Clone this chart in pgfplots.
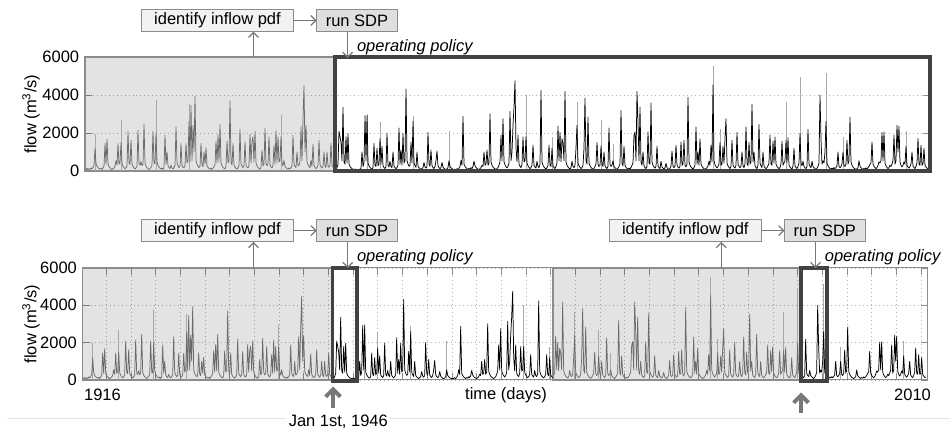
\documentclass[border=0pt]{standalone}
\usepackage{fontspec}
\setmainfont{Liberation Sans}
\usepackage{pgfplots}
\usepackage{pgfplotstable}
\pgfplotsset{compat=1.18}
\usetikzlibrary{arrows.meta}

\definecolor{frame}{gray}{0.55}
\definecolor{boxdark}{gray}{0.26}
\definecolor{spikelight}{gray}{0.66}
\definecolor{lineshaded}{gray}{0.42}
\definecolor{arrowgray}{gray}{0.47}

% inflow, one sample every 40.5 days (index 0 = start of record)
\pgfplotstableread{
v
110
70
140
70
120
80
160
110
190
290
1200
390
250
180
130
100
140
80
170
250
1450
340
1670
360
230
160
110
70
120
160
250
550
300
1440
360
420
1500
390
250
180
120
170
270
2090
420
340
1620
360
240
170
110
160
250
2140
390
300
500
280
360
2450
420
260
180
120
80
140
190
300
2090
420
370
2000
480
300
210
140
100
160
80
180
1880
360
1000
270
180
130
300
160
110
180
290
2310
420
270
180
240
1450
300
190
160
290
1440
420
540
2600
480
3450
540
2400
1000
3930
540
360
250
180
240
1450
300
230
1000
360
1220
270
190
130
100
140
80
160
230
330
1570
420
1900
480
2450
420
280
190
140
110
240
1570
420
540
3700
480
310
1440
300
200
140
100
170
270
2190
360
250
180
300
1530
310
200
150
300
1930
420
1570
1800
480
2090
420
270
190
130
90
180
1100
270
360
2230
420
270
360
1790
330
220
150
300
1360
360
2120
420
1790
480
540
1800
420
270
550
250
180
120
90
160
110
180
270
1880
360
250
180
1000
270
300
480
2310
540
2750
4490
1000
2400
480
330
240
180
550
240
1400
300
190
130
180
300
1620
330
220
150
240
1000
250
180
1000
270
190
300
1450
300
210
150
110
70
180
360
2090
1800
1500
540
3360
480
360
1800
420
1970
360
240
170
120
90
70
110
60
80
50
100
70
150
1000
240
420
2920
540
2900
420
270
190
130
100
180
1440
300
240
1200
270
360
1700
360
1300
270
180
130
230
1970
300
210
510
240
180
1000
240
170
120
180
300
2260
360
1100
300
1970
420
540
4320
540
360
250
300
1530
420
2600
420
270
190
1000
240
170
120
80
130
180
450
210
150
240
2020
360
250
1100
270
180
130
240
550
1050
270
180
120
180
450
210
140
100
70
110
180
540
240
170
120
90
70
100
70
120
80
150
240
550
300
2870
360
240
170
120
80
130
100
180
120
240
510
270
190
130
100
70
120
180
300
240
1000
300
360
1100
300
420
3010
480
300
210
150
110
80
120
180
300
480
1880
540
2750
480
330
230
160
240
420
3130
540
1000
2400
3390
4750
1200
480
1880
360
240
180
360
1790
480
540
1800
420
270
190
130
180
300
1360
300
210
150
510
240
180
360
4230
480
300
210
150
110
180
300
1360
300
240
1200
270
180
130
240
420
2350
540
2020
480
1700
1440
540
4180
480
300
210
150
110
180
510
240
180
300
1200
2400
420
270
190
130
180
300
1200
3830
540
360
2840
420
270
190
130
90
140
240
360
1500
360
240
300
1300
360
240
1000
270
180
130
240
2260
360
240
300
540
240
170
120
80
160
240
360
3180
420
270
1300
300
190
130
90
150
110
180
300
420
1880
2050
540
4180
2580
540
3360
480
300
1000
270
180
130
240
2050
420
360
3580
480
300
210
150
240
1300
270
180
120
510
210
150
110
180
400
180
120
80
150
240
1050
240
180
270
1360
300
210
150
240
1530
300
360
1620
300
210
360
3880
480
300
210
150
110
180
300
2310
360
1000
300
1700
360
240
170
120
80
130
180
270
510
300
1360
480
4520
540
330
230
160
240
360
1500
300
360
1300
420
1700
2750
420
270
190
130
240
1620
300
210
150
300
2020
360
240
170
240
1000
270
180
360
2310
420
270
1500
360
480
3530
480
1000
270
180
130
300
2450
420
270
180
1000
240
170
120
180
270
420
1880
360
300
1570
420
1790
360
240
170
120
180
360
1570
300
420
540
1600
420
1750
300
210
150
110
240
1200
270
180
130
240
420
1970
420
270
510
240
170
120
240
2190
360
240
180
510
240
170
120
80
150
240
420
4000
1700
360
540
420
1000
2600
420
270
190
130
90
150
110
180
120
180
270
1000
240
170
240
360
1000
300
240
360
1600
360
540
2840
480
300
210
150
110
80
120
180
540
240
170
120
80
130
100
160
110
180
240
360
420
1530
360
240
170
120
180
300
480
420
540
2020
540
2050
420
270
190
130
180
300
240
360
540
1880
360
540
2400
1000
2350
480
300
210
300
480
360
1300
300
210
150
240
360
1000
270
180
130
240
420
1710
360
300
1360
300
360
1200
300
210
150
120
}\flow

\pgfplotsset{
  flow axis/.style={
    scale only axis, width=512.1pt,
    xmin=0, xmax=34222, ymin=0, ymax=6000,
    ytick={0,2000,4000,6000},
    scaled y ticks=false, scaled x ticks=false,
    /pgf/number format/1000 sep={},
    /pgf/number format/assume math mode=true,
    tick align=inside,
    axis line style={frame, line width=0.6pt},
    major tick style={frame, line width=0.5pt},
    ymajorgrids,
    grid style={gray!60, dotted, line width=0.5pt},
    clip=false,
  },
  flow line/.style={line width=0.45pt, line join=round},
}
\tikzset{calib/.style={fill=black, fill opacity=0.11, draw=none}}

\begin{document}
\begin{tikzpicture}
\useasboundingbox (0,0) rectangle (576.97pt,261.21pt);

% ---- upper panel: calibration on 1916-1946, simulation afterwards
\begin{axis}[flow axis, height=69.1pt, at={(51.52pt,157.58pt)}, anchor=south west,
  xtick=\empty]
  \fill[calib] (axis cs:0,0) rectangle (axis cs:10125,6000);
  \draw[frame, line width=1.1pt] (axis cs:0,0) rectangle (axis cs:10125,6000);
  % peaks where the first series rises above the second
  \addplot[spikelight, ycomb, flow line] coordinates {
  (405,1960) (1458,2660) (2876,3760) (4212,3530) (7938,2920)
  (11421,3010) (11948,2580) (13284,2870) (14742,2090) (17861,4000)
  (18914,1790) (19926,3620) (20898,2660) (21384,1440) (25434,5500)
  (25718,2190) (28391,3620) (28958,4950) (30011,5150) (30699,1790)
  (33251,2090)};
  \addplot[lineshaded, flow line, restrict x to domain=0:10130]
    table[x expr=\coordindex*40.5, y=v] {\flow};
  \addplot[black, flow line, restrict x to domain=10120:40000]
    table[x expr=\coordindex*40.5, y=v] {\flow};
  \draw[boxdark, line width=2pt] (axis cs:10125,0) rectangle (axis cs:34222,6000);
\end{axis}

% ---- lower panel: two calibration windows, each followed by a short test year
\begin{axis}[flow axis, height=67.9pt, at={(50.12pt,30.91pt)}, anchor=south west,
  xtick={956,1956,...,33956}, xticklabels={}, xmajorgrids]
  \fill[calib] (axis cs:0,0) rectangle (axis cs:10125,6000);
  \fill[calib] (axis cs:19047,0) rectangle (axis cs:29091,6000);
  \draw[frame, line width=0.7pt] (axis cs:0,0) rectangle (axis cs:10125,6000);
  \draw[frame, line width=0.7pt] (axis cs:19047,0) rectangle (axis cs:29091,6000);
  \addplot[spikelight, ycomb, flow line] coordinates {
  (405,1960) (1458,2660) (2876,3760) (4212,3530) (7938,2920)
  (11421,3010) (11948,2580) (13284,2870) (14742,2090) (17861,4000)
  (18914,1790) (19926,3620) (20898,2660) (21384,1440) (25434,5500)
  (25718,2190) (28391,3620) (28958,4950) (30011,5150) (30699,1790)
  (33251,2090)};
  \addplot[lineshaded, flow line, restrict x to domain=0:10130]
    table[x expr=\coordindex*40.5, y=v] {\flow};
  \addplot[lineshaded, flow line, restrict x to domain=19040:29100]
    table[x expr=\coordindex*40.5, y=v] {\flow};
  \addplot[black, flow line, restrict x to domain=10120:19050]
    table[x expr=\coordindex*40.5, y=v] {\flow};
  \addplot[black, flow line, restrict x to domain=29085:40000]
    table[x expr=\coordindex*40.5, y=v] {\flow};
  \draw[boxdark, line width=2pt] (axis cs:10125,-60) rectangle (axis cs:11110,6000);
  \draw[boxdark, line width=2pt] (axis cs:29091,-60) rectangle (axis cs:30144,6000);
\end{axis}

% ---- annotations (units: 1 = one pixel of the 952 x 431 frame, y downwards)
\begin{scope}[x=0.60606pt, y=-0.60606pt, shift={(0pt,261.21pt)}]
  \tikzset{flowarrow/.style={arrowgray, line width=0.75pt,
      -{Straight Barb[length=3pt,width=6pt]}}}
  \foreach \dx/\dy in {0/0, 0/210.2, 467.8/210.2}{
    \begin{scope}[shift={(\dx,\dy)}]
      \draw[frame, fill=gray!10, line width=0.6pt] (141.7,9.3) rectangle (293.3,31.7);
      \node at (217.5,20.5) {identify inflow pdf};
      \draw[frame, fill=gray!25, line width=0.6pt] (316.7,9.3) rectangle (397.3,31.7);
      \node at (357,20.5) {run SDP};
      \draw[flowarrow] (293.3,20.5) -- (316.7,20.5);
      \draw[flowarrow] (253.5,57.5) -- (253.5,31.7);
      \draw[flowarrow] (347.7,31.7) -- (347.7,58);
      \node[anchor=west, font=\itshape, inner sep=0pt] at (356.7,47.2) {operating policy};
    \end{scope}
  }
  \node[rotate=90] at (31,114) {flow (m\textsuperscript{3}/s)};
  \node[rotate=90] at (31,324) {flow (m\textsuperscript{3}/s)};
  \node at (102.5,395) {1916};
  \node at (912.5,395) {2010};
  \node at (506,395) {time (days)};
  \draw[gray!22, line width=0.6pt] (7,418) -- (950,418);
  \node[fill=white, inner sep=1.5pt] at (338.3,422) {Jan 1st, 1946};
  \draw[arrowgray, line width=2.4pt, -{Straight Barb[length=4.5pt,width=9pt]}]
    (333,408) -- (333,386.5);
  \draw[arrowgray, line width=2.4pt, -{Straight Barb[length=4.5pt,width=9pt]}]
    (801,413) -- (801,392.5);
\end{scope}
\end{tikzpicture}
\end{document}
